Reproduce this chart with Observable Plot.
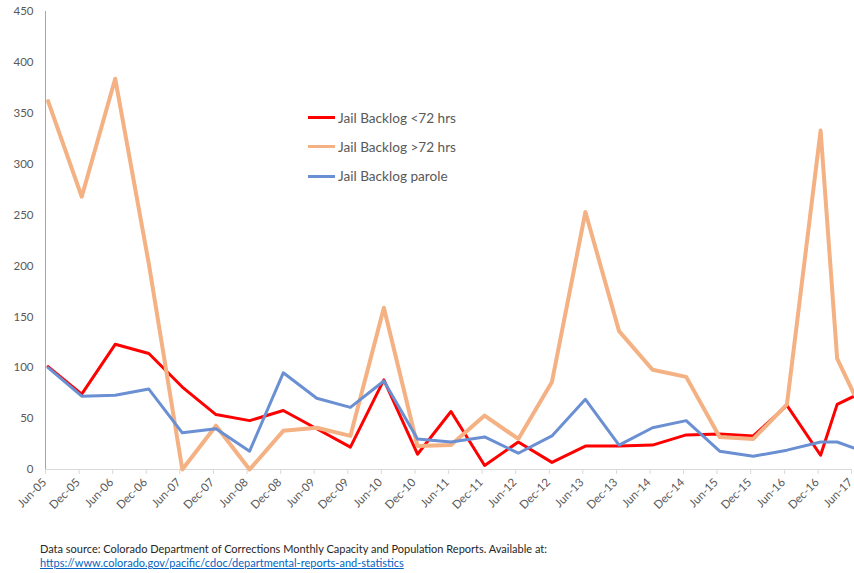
<!DOCTYPE html>
<html><head><meta charset="utf-8">
<script src="https://cdn.jsdelivr.net/npm/d3@7"></script>
<script src="https://cdn.jsdelivr.net/npm/@observablehq/plot@0.6"></script>
<style>
body{margin:0;background:#fff;}
#wrap{position:relative;width:854px;height:573px;overflow:hidden;font-family:Lato,"Liberation Sans",sans-serif;}
#chart svg{display:block;overflow:visible;}
#legend{position:absolute;left:308px;top:103px;font-size:13.6px;color:#595959;}
#legend .row{display:flex;align-items:center;height:29.3px;}
#legend .sw{width:27px;height:3px;margin-right:3px;}
#caption{position:absolute;left:40px;top:542px;font-size:11px;line-height:14px;color:#262626;}
#caption a{color:#0563C1;text-decoration:underline;}
</style></head><body>
<div id="wrap"><div id="chart"></div><div id="legend"></div>
<div id="caption">Data source: Colorado Department of Corrections Monthly Capacity and Population Reports. Available at:<br><a href="https://www.colorado.gov/pacific/cdoc/departmental-reports-and-statistics">https://www.colorado.gov/pacific/cdoc/departmental-reports-and-statistics</a></div>
</div>
<script>
const dates = ["2005-06-15","2005-12-15","2006-06-15","2006-12-15","2007-06-15","2007-12-15","2008-06-15","2008-12-15","2009-06-15","2009-12-15","2010-06-15","2010-12-15","2011-06-15","2011-12-15","2012-06-15","2012-12-15","2013-06-15","2013-12-15","2014-06-15","2014-12-15","2015-06-15","2015-12-15","2016-06-15","2016-12-15","2017-03-15","2017-06-15"];
const backlogUnder72 = [101,74,123,114,81,54,48,58,40,22,88,15,57,4,27,7,23,23,24,34,35,33,63,14,64,72];
const backlogOver72  = [362,268,384,202,0,43,0,38,41,33,159,23,24,53,30,86,253,136,98,91,32,30,64,333,109,74];
const backlogParole  = [100,72,73,79,36,40,18,95,70,61,87,30,27,32,16,33,69,24,41,48,18,13,19,27,27,21];
const seriesNames = ["Jail Backlog <72 hrs","Jail Backlog >72 hrs","Jail Backlog parole"];
const seriesColors = ["#FF0000","#F4B183","#6A8FD3"];
const seriesWidths = [3,4,3];
const tickDates = ["2005-06-01","2005-12-01","2006-06-01","2006-12-01","2007-06-01","2007-12-01","2008-06-01","2008-12-01","2009-06-01","2009-12-01","2010-06-01","2010-12-01","2011-06-01","2011-12-01","2012-06-01","2012-12-01","2013-06-01","2013-12-01","2014-06-01","2014-12-01","2015-06-01","2015-12-01","2016-06-01","2016-12-01","2017-06-01"];
const yTicks = [0,50,100,150,200,250,300,350,400,450];

const seriesValues = [backlogUnder72, backlogOver72, backlogParole];
const parse = d3.utcParse("%Y-%m-%d");
const fmt = d3.utcFormat("%b-%y");
const ticks = tickDates.map(parse);

const lineMarks = seriesValues.map((vals, s) =>
  Plot.line(dates.map((d, i) => ({date: parse(d), value: vals[i]})), {
    x: "date", y: "value", stroke: seriesColors[s], strokeWidth: seriesWidths[s],
    strokeLinejoin: "round", strokeLinecap: "round"
  })
);

const chart = Plot.plot({
  width: 854, height: 520,
  marginLeft: 45, marginRight: 3, marginTop: 11, marginBottom: 51,
  x: {type: "utc", domain: [ticks[0], ticks[ticks.length - 1]]},
  y: {domain: [0, 450]},
  style: {fontFamily: "Lato, 'Liberation Sans', sans-serif", fontSize: "11.5px", color: "#595959", background: "#fff"},
  marks: [
    Plot.ruleY([0], {stroke: "#D9D9D9", strokeWidth: 1}),
    Plot.ruleX([ticks[0]], {y1: 0, y2: 450, stroke: "#A6A6A6"}),
    Plot.axisY({ticks: yTicks, tickSize: 0, tickPadding: 12, label: null, fill: "#595959"}),
    Plot.axisX({ticks: ticks, tickFormat: () => "", tickSize: 5, stroke: "#D9D9D9", label: null}),
    Plot.axisX({ticks: ticks, tickFormat: fmt, tickSize: 0, tickRotate: -45, fill: "#595959", label: null, tickPadding: 6, dx: -1, dy: 5}),
    ...lineMarks
  ]
});
document.getElementById("chart").append(chart);

const legend = d3.select("#legend");
seriesNames.forEach((n, i) => {
  const r = legend.append("div").attr("class", "row");
  r.append("div").attr("class", "sw").style("background", seriesColors[i]);
  r.append("span").text(n);
});
</script>
</body></html>
